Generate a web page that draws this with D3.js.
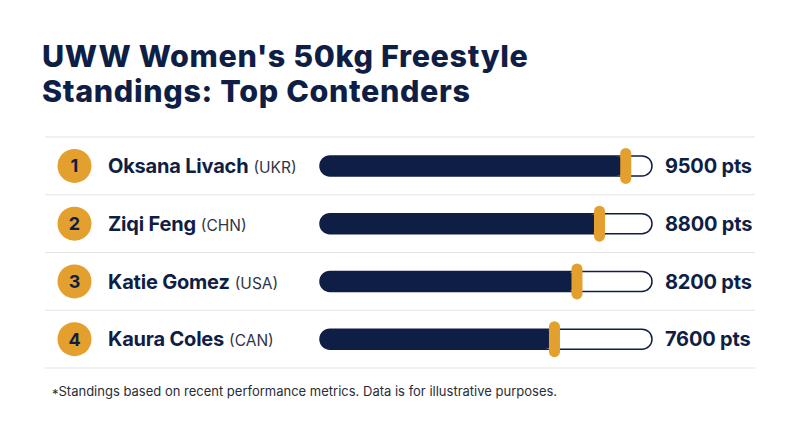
<!DOCTYPE html>
<html>
<head>
<meta charset="utf-8">
<script src="https://cdn.jsdelivr.net/npm/d3@7"></script>
<style>
  html, body { margin: 0; padding: 0; background: #ffffff; }
  svg { display: block; }
</style>
</head>
<body>
<div id="chart"></div>
<script>
const titleLines = ["UWW Women's 50kg Freestyle", "Standings: Top Contenders"];
const ranks = [1, 2, 3, 4];
const names = ["Oksana Livach", "Ziqi Feng", "Katie Gomez", "Kaura Coles"];
const countries = ["(UKR)", "(CHN)", "(USA)", "(CAN)"];
const points = [9500, 8800, 8200, 7600];
const footnote = "Standings based on recent performance metrics. Data is for illustrative purposes.";

const W = 800, H = 447;
const navy = "#0f1e45";
const gold = "#e3a02e";
const font = "Inter, 'Noto Sans', sans-serif";

const svg = d3.select("#chart").append("svg").attr("width", W).attr("height", H);
svg.append("rect").attr("width", W).attr("height", H).attr("fill", "#fff");

svg.selectAll("text.title").data(titleLines).enter().append("text")
  .attr("class", "title")
  .attr("x", 42).attr("y", (d, i) => 67 + i * 35)
  .attr("font-family", font).attr("font-weight", 800).attr("font-size", 30.5)
  .attr("letter-spacing", 0.65)
  .attr("fill", navy).text(d => d);

const rows = d3.scaleBand().domain(ranks).range([137, 368]).paddingInner(0).paddingOuter(0);
const x = d3.scaleLinear().domain([1350, 10200]).range([320, 652]);

// separators
const seps = ranks.map(r => rows(r)).concat([rows.range()[1]]);
svg.selectAll("line.sep").data(seps).enter().append("line")
  .attr("x1", 45).attr("x2", 755).attr("y1", d => d).attr("y2", d => d)
  .attr("stroke", "#e4e4e6").attr("stroke-width", 1.2);

const data = ranks.map((r, i) => ({ rank: r, name: names[i], country: countries[i], pts: points[i] }));
const g = svg.selectAll("g.row").data(data).enter().append("g")
  .attr("transform", d => `translate(0,${rows(d.rank) + rows.bandwidth() / 2})`);

g.append("circle").attr("cx", 74.5).attr("cy", 0).attr("r", 17).attr("fill", gold);
g.append("text").attr("x", 74.5).attr("y", 6.5).attr("text-anchor", "middle")
  .attr("font-family", font).attr("font-weight", 700).attr("font-size", 18)
  .attr("fill", navy).text(d => d.rank);

const label = g.append("text").attr("x", 108).attr("y", 7.3).attr("font-family", font);
label.append("tspan").attr("font-weight", 700).attr("font-size", 20).attr("fill", navy)
  .attr("letter-spacing", -0.2).text(d => d.name);
label.append("tspan").attr("font-weight", 400).attr("font-size", 15.5).attr("fill", "#2f3548")
  .attr("dx", 5).text(d => d.country);

const bh = 20;
const [x0, x1] = x.range();
g.append("rect").attr("x", x0).attr("y", -bh / 2).attr("width", x1 - x0).attr("height", bh)
  .attr("rx", bh / 2).attr("fill", "#fff").attr("stroke", navy).attr("stroke-width", 1.5);
g.append("rect").attr("x", x0).attr("y", -bh / 2).attr("width", d => x(d.pts) - x0).attr("height", bh)
  .attr("rx", bh / 2).attr("fill", navy);
g.append("rect").attr("x", d => x(d.pts) - 5.5).attr("y", -18).attr("width", 11).attr("height", 36)
  .attr("rx", 5.5).attr("fill", gold);

g.append("text").attr("x", 665).attr("y", 7.3)
  .attr("font-family", font).attr("font-weight", 700).attr("font-size", 20)
  .attr("letter-spacing", -0.2).attr("fill", navy).text(d => `${d.pts} pts`);

const foot = svg.append("text").attr("x", 52).attr("y", 396)
  .attr("font-family", font).attr("font-size", 13).attr("fill", "#2a2d36");
foot.append("tspan").attr("dy", 3).attr("font-size", 13).text("*");
foot.append("tspan").attr("dy", -3).text(footnote);
</script>
</body>
</html>
